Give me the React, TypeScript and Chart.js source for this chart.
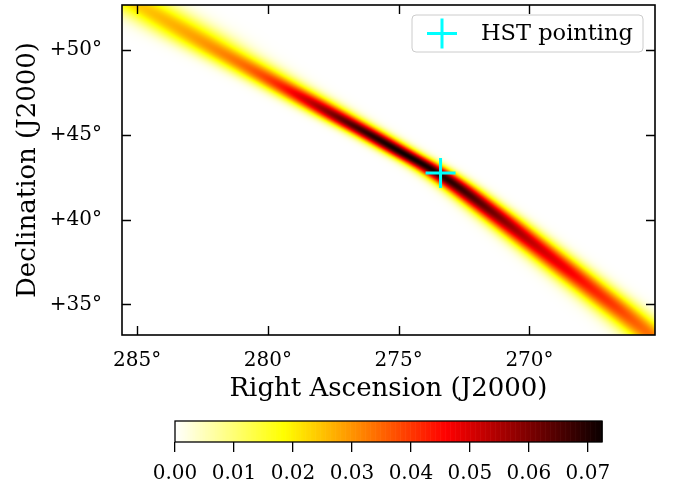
import React, { useEffect, useRef } from 'react';
import { Chart, registerables } from 'chart.js';

Chart.register(...registerables);

// ---------------- data ----------------
const RA_TICKS = [285, 280, 275, 270];
const DEC_TICKS = [35, 40, 45, 50];
const CB_TICKS = [0, 0.01, 0.02, 0.03, 0.04, 0.05, 0.06, 0.07];
const RA_LIMITS = [265.2, 285.58];
const DEC_LIMITS = [33.19, 52.65];
const V_MAX = 0.0724;

// probability band: centre RA, peak density and RA-width per declination row
const BAND_DEC = [52.7, 51, 50, 49, 48, 47, 46, 45, 44, 43, 42, 41, 40, 39, 38, 37, 36, 35, 34, 33.1];
const BAND_RA = [284.95, 283.04, 281.92, 280.75, 279.59, 278.42, 277.26, 276.08, 274.94, 273.79, 272.8, 271.92, 271.06, 270.22, 269.38, 268.54, 267.7, 266.86, 266.04, 265.32];
const BAND_PEAK = [0.024, 0.028, 0.031, 0.035, 0.042, 0.052, 0.062, 0.069, 0.072, 0.071, 0.068, 0.064, 0.059, 0.054, 0.05, 0.047, 0.043, 0.04, 0.036, 0.033];
const BAND_SIGMA = [0.85, 0.8, 0.72, 0.65, 0.58, 0.53, 0.48, 0.44, 0.42, 0.42, 0.43, 0.45, 0.48, 0.5, 0.52, 0.54, 0.56, 0.58, 0.6, 0.62];

const HST_RA = [273.4];
const HST_DEC = [42.74];
const HST_LABEL = 'HST pointing';

const X_TITLE = 'Right Ascension (J2000)';
const Y_TITLE = 'Declination (J2000)';

const FONT = "'DejaVu Serif', 'Liberation Serif', serif";

// ---------------- helpers ----------------
function hotR(t: number): [number, number, number] {
  const s = 1 - Math.min(1, Math.max(0, t));
  const r = s < 0.365079 ? 0.0416 + (1 - 0.0416) * (s / 0.365079) : 1;
  const g = s < 0.365079 ? 0 : s < 0.746032 ? (s - 0.365079) / (0.746032 - 0.365079) : 1;
  const b = s < 0.746032 ? 0 : (s - 0.746032) / (1 - 0.746032);
  return [Math.round(r * 255), Math.round(g * 255), Math.round(b * 255)];
}

// cubic Hermite (Catmull-Rom style) along the sampled declinations
function smoothAt(arr: number[], dec: number): number {
  const n = BAND_DEC.length;
  if (dec >= BAND_DEC[0]) return arr[0];
  if (dec <= BAND_DEC[n - 1]) return arr[n - 1];
  const slope = (k: number) => {
    const a = Math.max(0, k - 1);
    const b = Math.min(n - 1, k + 1);
    return (arr[b] - arr[a]) / (BAND_DEC[b] - BAND_DEC[a]);
  };
  for (let k = 0; k < n - 1; k++) {
    const a = BAND_DEC[k];
    const b = BAND_DEC[k + 1];
    if (dec <= a && dec >= b) {
      const h = b - a;
      const t = (dec - a) / h;
      const t2 = t * t;
      const t3 = t2 * t;
      const h00 = 2 * t3 - 3 * t2 + 1;
      const h10 = t3 - 2 * t2 + t;
      const h01 = -2 * t3 + 3 * t2;
      const h11 = t3 - t2;
      return h00 * arr[k] + h10 * h * slope(k) + h01 * arr[k + 1] + h11 * h * slope(k + 1);
    }
  }
  return arr[0];
}

const heatmapPlugin = {
  id: 'heatmap',
  beforeDatasetsDraw(chart: any) {
    const { ctx, chartArea, scales } = chart;
    const xs = scales.x;
    const ys = scales.y;
    const step = 0.04;
    const raMax = xs.max;
    const raMin = xs.min;
    const decMax = ys.max;
    const decMin = ys.min;
    const nx = Math.ceil((raMax - raMin) / step);
    const ny = Math.ceil((decMax - decMin) / step);
    const off = document.createElement('canvas');
    off.width = nx;
    off.height = ny;
    const octx = off.getContext('2d')!;
    const img = octx.createImageData(nx, ny);
    for (let j = 0; j < ny; j++) {
      const dec = decMax - (j + 0.5) * step;
      const c = smoothAt(BAND_RA, dec);
      const peak = smoothAt(BAND_PEAK, dec);
      const sig = smoothAt(BAND_SIGMA, dec);
      for (let i = 0; i < nx; i++) {
        const ra = raMax - (i + 0.5) * step;
        const d = (ra - c) / sig;
        const v = peak * Math.exp(-0.5 * d * d);
        const [r, g, b] = hotR(v / V_MAX);
        const p = (j * nx + i) * 4;
        img.data[p] = r;
        img.data[p + 1] = g;
        img.data[p + 2] = b;
        img.data[p + 3] = 255;
      }
    }
    octx.putImageData(img, 0, 0);
    const x0 = xs.getPixelForValue(raMax);
    const x1 = xs.getPixelForValue(raMax - nx * step);
    const y0 = ys.getPixelForValue(decMax);
    const y1 = ys.getPixelForValue(decMax - ny * step);
    ctx.save();
    ctx.beginPath();
    ctx.rect(chartArea.left, chartArea.top, chartArea.right - chartArea.left, chartArea.bottom - chartArea.top);
    ctx.clip();
    ctx.imageSmoothingEnabled = true;
    ctx.drawImage(off, x0, y0, x1 - x0, y1 - y0);
    ctx.restore();
  },
};

const framePlugin = {
  id: 'frameTicks',
  afterDraw(chart: any) {
    const { ctx, chartArea, scales } = chart;
    const { left, right, top, bottom } = chartArea;
    const len = 9;
    ctx.save();
    ctx.strokeStyle = '#000';
    ctx.lineWidth = 1.4;
    ctx.beginPath();
    RA_TICKS.forEach((v) => {
      const px = Math.round(scales.x.getPixelForValue(v)) + 0.5;
      ctx.moveTo(px, bottom);
      ctx.lineTo(px, bottom - len);
      ctx.moveTo(px, top);
      ctx.lineTo(px, top + len);
    });
    DEC_TICKS.forEach((v) => {
      const py = Math.round(scales.y.getPixelForValue(v)) + 0.5;
      ctx.moveTo(left, py);
      ctx.lineTo(left + len, py);
      ctx.moveTo(right, py);
      ctx.lineTo(right - len, py);
    });
    ctx.stroke();
    ctx.lineWidth = 1.6;
    ctx.strokeRect(left, top, right - left, bottom - top);

    // legend box (upper right)
    const bw = 231;
    const bh = 37;
    const bx = right - 12 - bw;
    const by = top + 10;
    const r = 4;
    ctx.beginPath();
    ctx.moveTo(bx + r, by);
    ctx.lineTo(bx + bw - r, by);
    ctx.quadraticCurveTo(bx + bw, by, bx + bw, by + r);
    ctx.lineTo(bx + bw, by + bh - r);
    ctx.quadraticCurveTo(bx + bw, by + bh, bx + bw - r, by + bh);
    ctx.lineTo(bx + r, by + bh);
    ctx.quadraticCurveTo(bx, by + bh, bx, by + bh - r);
    ctx.lineTo(bx, by + r);
    ctx.quadraticCurveTo(bx, by, bx + r, by);
    ctx.closePath();
    ctx.fillStyle = 'rgba(255,255,255,0.85)';
    ctx.fill();
    ctx.strokeStyle = '#cccccc';
    ctx.lineWidth = 1;
    ctx.stroke();
    const mx = bx + 30;
    const my = by + 18.5;
    ctx.strokeStyle = '#00ffff';
    ctx.lineWidth = 3;
    ctx.beginPath();
    ctx.moveTo(mx - 15, my);
    ctx.lineTo(mx + 15, my);
    ctx.moveTo(mx, my - 15);
    ctx.lineTo(mx, my + 15);
    ctx.stroke();
    ctx.fillStyle = '#000';
    ctx.font = `22.5px ${FONT}`;
    ctx.textBaseline = 'alphabetic';
    ctx.textAlign = 'left';
    ctx.fillText(chart.data.datasets[0].label, bx + 69, by + 25);
    ctx.restore();
  },
};

const colorbarPlugin = {
  id: 'colorbar',
  beforeDatasetsDraw(chart: any) {
    const { ctx, chartArea, scales } = chart;
    const xs = scales.x;
    const N = 256;
    ctx.save();
    for (let i = 0; i < N; i++) {
      const v0 = (i / N) * V_MAX;
      const v1 = ((i + 1) / N) * V_MAX;
      const p0 = xs.getPixelForValue(v0);
      const p1 = xs.getPixelForValue(v1);
      const [r, g, b] = hotR((v0 + v1) / 2 / V_MAX);
      ctx.fillStyle = `rgb(${r},${g},${b})`;
      ctx.fillRect(p0, chartArea.top, p1 - p0 + 0.6, chartArea.bottom - chartArea.top);
    }
    ctx.strokeStyle = '#000';
    ctx.lineWidth = 1.3;
    ctx.strokeRect(chartArea.left, chartArea.top, chartArea.right - chartArea.left, chartArea.bottom - chartArea.top);
    ctx.restore();
  },
};

export default function App() {
  const mainRef = useRef<HTMLCanvasElement>(null);
  const cbRef = useRef<HTMLCanvasElement>(null);

  useEffect(() => {
    Chart.defaults.color = '#000';
    Chart.defaults.font.family = FONT;

    const main = new Chart(mainRef.current!, {
      type: 'scatter',
      data: {
        datasets: [
          {
            label: HST_LABEL,
            data: HST_RA.map((ra, i) => ({ x: ra, y: HST_DEC[i] })),
            pointStyle: 'cross',
            pointRadius: 15,
            pointHoverRadius: 15,
            borderWidth: 3,
            borderColor: '#00ffff',
            backgroundColor: '#00ffff',
          },
        ],
      },
      options: {
        responsive: false,
        animation: false,
        events: [],
        layout: { autoPadding: false, padding: { top: 5, right: 18, left: 0, bottom: 0 } },
        plugins: { legend: { display: false }, tooltip: { enabled: false } },
        scales: {
          x: {
            type: 'linear',
            reverse: true,
            min: RA_LIMITS[0],
            max: RA_LIMITS[1],
            grid: { display: false },
            border: { display: false },
            afterBuildTicks: (s: any) => {
              s.ticks = RA_TICKS.map((v) => ({ value: v }));
            },
            afterFit: (s: any) => {
              s.height = 75;
              s.paddingLeft = 0;
              s.paddingRight = 0;
              s.paddingTop = 0;
              s.paddingBottom = 0;
            },
            ticks: {
              autoSkip: false,
              maxRotation: 0,
              padding: 6,
              font: { family: FONT, size: 20 },
              callback: (v: any) => `${v}°`,
            },
            title: {
              display: true,
              text: X_TITLE,
              font: { family: FONT, size: 26 },
              padding: { top: 0, bottom: 5 },
            },
          },
          y: {
            type: 'linear',
            min: DEC_LIMITS[0],
            max: DEC_LIMITS[1],
            grid: { display: false },
            border: { display: false },
            afterBuildTicks: (s: any) => {
              s.ticks = DEC_TICKS.map((v) => ({ value: v }));
            },
            afterFit: (s: any) => {
              s.width = 122;
              s.paddingLeft = 0;
              s.paddingRight = 0;
              s.paddingTop = 0;
              s.paddingBottom = 0;
            },
            ticks: {
              autoSkip: false,
              padding: 12,
              font: { family: FONT, size: 20 },
              callback: (v: any) => `+${v}°`,
            },
            title: {
              display: true,
              text: Y_TITLE,
              font: { family: FONT, size: 26 },
              padding: { top: 13, bottom: 0 },
            },
          },
        },
      },
      plugins: [heatmapPlugin, framePlugin],
    } as any);

    const cb = new Chart(cbRef.current!, {
      type: 'scatter',
      data: { datasets: [] },
      options: {
        responsive: false,
        animation: false,
        events: [],
        layout: { autoPadding: false, padding: { top: 11, right: 71, left: 175, bottom: 0 } },
        plugins: { legend: { display: false }, tooltip: { enabled: false } },
        scales: {
          x: {
            type: 'linear',
            min: 0,
            max: V_MAX,
            grid: { display: true, drawOnChartArea: false, drawTicks: true, tickLength: 10, color: '#000', lineWidth: 1.3 },
            border: { display: false },
            afterBuildTicks: (s: any) => {
              s.ticks = CB_TICKS.map((v) => ({ value: v }));
            },
            afterFit: (s: any) => {
              s.height = 45;
              s.paddingLeft = 0;
              s.paddingRight = 0;
            },
            ticks: {
              autoSkip: false,
              maxRotation: 0,
              padding: 10,
              font: { family: FONT, size: 20 },
              callback: (v: any) => Number(v).toFixed(2),
            },
          },
          y: { display: false, min: 0, max: 1 },
        },
      },
      plugins: [colorbarPlugin],
    } as any);

    return () => {
      main.destroy();
      cb.destroy();
    };
  }, []);

  return (
    <div style={{ position: 'fixed', left: 0, top: 0, width: 673, height: 487, background: '#fff' }}>
      <canvas ref={mainRef} width={673} height={410} style={{ display: 'block', width: 673, height: 410 }} />
      <canvas ref={cbRef} width={673} height={77} style={{ display: 'block', width: 673, height: 77 }} />
    </div>
  );
}
